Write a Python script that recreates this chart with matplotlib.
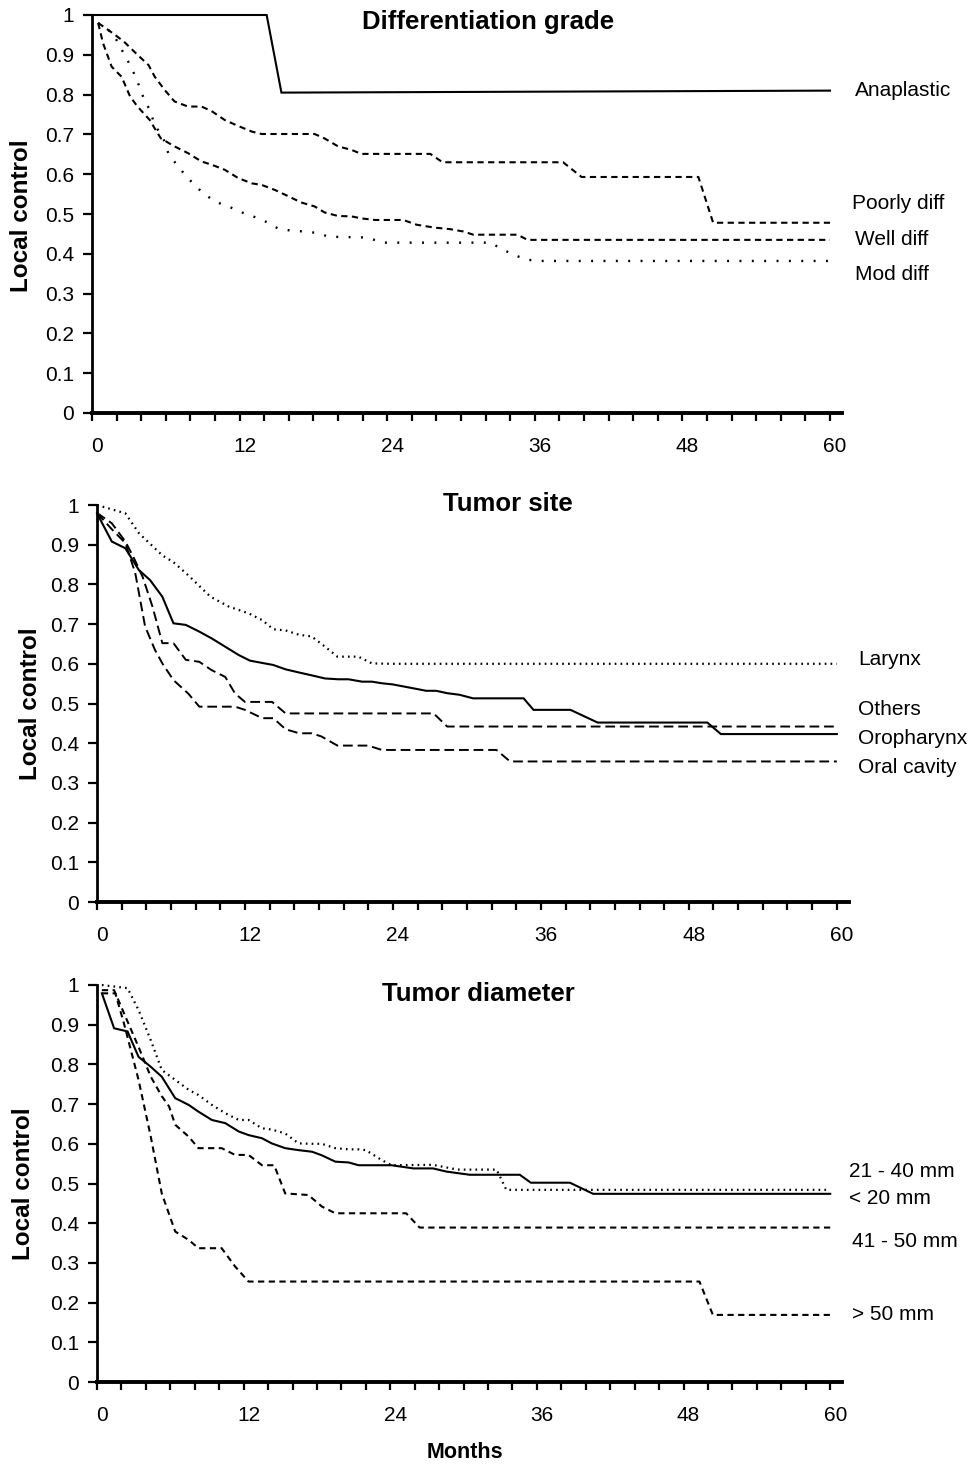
import matplotlib
matplotlib.use("Agg")
import matplotlib.pyplot as plt
import matplotlib.transforms as mtransforms

plt.rcParams["font.family"] = ["Liberation Sans", "DejaVu Sans"]
plt.rcParams["lines.scale_dashes"] = False

# ---- Differentiation grade ----
ANAPLASTIC_M = [0, 14.2, 15.4, 60]
ANAPLASTIC_V = [1.0, 1.0, 0.805, 0.81]

POORLY_M = [0.5, 1.7, 2.6, 3.7, 4.6, 5.1, 5.9, 6.7, 7.8, 8.9, 9.7, 10.8, 11.9, 13.0, 13.8,
            18.1, 18.9, 20.0, 21.1, 21.9, 27.5, 28.5, 38.3, 39.8, 49.3, 50.5, 60]
POORLY_V = [0.98, 0.954, 0.933, 0.90, 0.874, 0.845, 0.812, 0.783, 0.77, 0.77, 0.759, 0.736, 0.721,
            0.707, 0.701, 0.701, 0.69, 0.67, 0.661, 0.651, 0.651, 0.63, 0.63, 0.593, 0.593, 0.478, 0.478]

WELL_M = [0.5, 0.9, 1.6, 2.4, 3.1, 3.7, 4.7, 5.1, 5.6, 6.7, 7.8, 8.9, 9.8, 10.8, 11.9, 13.0, 13.8,
          14.9, 16.0, 17.0, 18.1, 18.9, 20.0, 21.1, 21.9, 23.0, 25.3, 26.4, 27.8, 29.1, 30.2, 31.0,
          34.6, 35.4, 60]
WELL_V = [0.98, 0.929, 0.87, 0.845, 0.795, 0.77, 0.736, 0.715, 0.69, 0.67, 0.653, 0.632, 0.623,
          0.611, 0.59, 0.577, 0.573, 0.56, 0.544, 0.529, 0.519, 0.504, 0.495, 0.494, 0.489, 0.485,
          0.485, 0.473, 0.466, 0.462, 0.456, 0.448, 0.448, 0.435, 0.435]

MOD_M = [0.5, 1.7, 2.5, 3.1, 3.6, 4.2, 4.7, 5.1, 5.8, 6.2, 6.9, 7.8, 8.9, 10.0, 11.1, 12.0, 13.1,
         14.0, 15.1, 16.2, 17.3, 18.4, 19.2, 22.3, 23.7, 32.4, 33.2, 34.3, 35.4, 36.4, 60]
MOD_V = [0.98, 0.954, 0.908, 0.874, 0.841, 0.791, 0.761, 0.724, 0.69, 0.653, 0.623, 0.59, 0.556,
         0.531, 0.519, 0.506, 0.494, 0.483, 0.464, 0.458, 0.456, 0.452, 0.443, 0.441, 0.428,
         0.428, 0.414, 0.397, 0.385, 0.382, 0.382]

# ---- Tumor site ----
LARYNX_M = [0, 2.3, 3.4, 5.3, 6.2, 7.4, 9.2, 10.7, 12.3, 13.4, 14.3, 15.3, 16.4, 17.4, 18.5,
            19.5, 21.2, 22.3, 23.9, 60]
LARYNX_V = [1.0, 0.979, 0.929, 0.873, 0.856, 0.823, 0.769, 0.744, 0.727, 0.71, 0.687, 0.684,
            0.673, 0.669, 0.643, 0.618, 0.618, 0.601, 0.6, 0.6]

OTHERS_M = [0, 1.2, 1.8, 2.3, 3.0, 3.7, 4.5, 5.3, 6.2, 7.2, 8.3, 9.3, 10.4, 11.2, 12.0, 14.2,
            15.3, 27.3, 28.4, 60]
OTHERS_V = [0.98, 0.954, 0.929, 0.908, 0.866, 0.819, 0.744, 0.652, 0.652, 0.61, 0.605, 0.584,
            0.567, 0.525, 0.504, 0.504, 0.475, 0.475, 0.442, 0.442]

OROPH_M = [0, 1.2, 2.3, 3.4, 4.3, 5.3, 6.2, 7.2, 8.3, 9.3, 10.4, 11.5, 12.4, 13.6, 14.3, 15.3,
           16.4, 17.4, 18.5, 19.6, 20.4, 21.5, 22.3, 23.1, 24.0, 25.7, 26.7, 27.5, 28.4, 29.4,
           30.5, 34.6, 35.4, 38.4, 40.6, 49.5, 50.6, 60]
OROPH_V = [0.979, 0.908, 0.891, 0.836, 0.811, 0.769, 0.702, 0.698, 0.681, 0.664, 0.643, 0.622,
           0.608, 0.601, 0.597, 0.586, 0.578, 0.571, 0.563, 0.561, 0.561, 0.555, 0.555, 0.551,
           0.548, 0.538, 0.532, 0.532, 0.526, 0.522, 0.513, 0.513, 0.484, 0.484, 0.452, 0.452,
           0.423, 0.423]

ORAL_M = [0, 1.2, 2.3, 3.1, 3.9, 4.7, 5.3, 6.2, 7.4, 8.3, 11.2, 12.0, 13.4, 14.3, 15.3, 16.4,
          17.4, 18.2, 19.5, 22.0, 23.1, 32.4, 33.5, 60]
ORAL_V = [0.98, 0.939, 0.904, 0.829, 0.694, 0.635, 0.601, 0.559, 0.525, 0.492, 0.492, 0.484,
          0.463, 0.463, 0.435, 0.425, 0.425, 0.417, 0.394, 0.394, 0.383, 0.383, 0.354, 0.354]

# ---- Tumor diameter ----
D21_40_M = [0.4, 2.5, 3.4, 4.4, 5.3, 6.4, 7.5, 8.3, 9.4, 10.5, 11.6, 12.4, 13.5, 14.3, 15.4,
            16.5, 17.6, 18.4, 19.5, 20.6, 21.4, 22.0, 23.3, 24.1, 27.5, 29.5, 32.7, 33.5, 60]
D21_40_V = [1.0, 0.992, 0.937, 0.861, 0.786, 0.761, 0.736, 0.723, 0.698, 0.677, 0.66, 0.66,
            0.639, 0.636, 0.626, 0.601, 0.6, 0.6, 0.589, 0.586, 0.586, 0.584, 0.559, 0.546,
            0.547, 0.535, 0.535, 0.484, 0.484]

D20_M = [0.4, 1.4, 2.5, 3.4, 4.4, 5.3, 6.4, 7.5, 8.3, 9.4, 10.5, 11.6, 12.4, 13.5, 14.3, 15.4,
         16.5, 17.6, 18.4, 19.5, 20.6, 21.4, 24.1, 25.9, 27.5, 28.6, 30.5, 34.6, 35.5, 38.7,
         40.6, 60]
D20_V = [0.979, 0.891, 0.883, 0.819, 0.794, 0.769, 0.715, 0.698, 0.681, 0.66, 0.652, 0.631,
         0.622, 0.614, 0.601, 0.589, 0.584, 0.58, 0.571, 0.555, 0.553, 0.546, 0.546, 0.538,
         0.538, 0.53, 0.522, 0.522, 0.502, 0.502, 0.474, 0.474]

D41_50_M = [0.4, 1.4, 2.5, 3.4, 4.4, 5.3, 5.9, 6.4, 7.5, 8.3, 10.2, 11.3, 12.4, 13.5, 14.5,
            15.4, 17.3, 18.4, 19.5, 25.3, 26.4, 60]
D41_50_V = [0.987, 0.987, 0.908, 0.844, 0.769, 0.72, 0.694, 0.648, 0.618, 0.589, 0.589, 0.572,
            0.572, 0.546, 0.546, 0.475, 0.471, 0.442, 0.425, 0.425, 0.389, 0.389]

D50_M = [0.4, 1.5, 2.2, 3.4, 4.4, 5.3, 6.4, 7.5, 8.3, 10.2, 11.3, 12.4, 49.3, 50.4, 60]
D50_V = [0.979, 0.979, 0.904, 0.761, 0.618, 0.475, 0.379, 0.358, 0.337, 0.337, 0.291, 0.253,
         0.253, 0.169, 0.169]

W, H = 978, 1466
SOLID = dict(linestyle="-", linewidth=1.5)
DASH = dict(linestyle=(0, (4.5, 3.2)), linewidth=1.5)
LONGDASH = dict(linestyle=(0, (7.0, 3.5)), linewidth=1.4)
SPARSE_DOT = dict(linestyle=(0, (1.4, 7.5)), linewidth=1.7)
DOT = dict(linestyle=(0, (1.2, 3.0)), linewidth=1.6)

fig = plt.figure(figsize=(W / 100, H / 100), dpi=100)
label_shift = mtransforms.ScaledTranslation(5 / 100, 0, fig.dpi_scale_trans)


def make_axes(left, top, bottom, scale):
    width = 61 * scale
    ax = fig.add_axes([left / W, (H - bottom) / H, width / W, (bottom - top) / H])
    ax.set_xlim(0, 61)
    ax.set_ylim(0, 1)
    for side in ("top", "right"):
        ax.spines[side].set_visible(False)
    ax.spines["left"].set_linewidth(2.0)
    ax.spines["bottom"].set_linewidth(2.8)
    ax.set_xticks(range(0, 61, 2))
    ax.set_xticklabels([str(m) if m % 12 == 0 else "" for m in range(0, 61, 2)])
    ticks = [i / 10 for i in range(11)]
    ax.set_yticks(ticks)
    ax.set_yticklabels(["0"] + [f"{t:.1f}" for t in ticks[1:-1]] + ["1"])
    ax.tick_params(axis="x", direction="out", length=6, width=1.6, pad=11, labelsize=15)
    ax.tick_params(axis="y", direction="out", length=6.5, width=1.6, pad=6.5, labelsize=15)
    for lbl in ax.get_xticklabels():
        lbl.set_transform(lbl.get_transform() + label_shift)
    return ax


def draw(ax, m, v, style):
    ax.plot(m, v, color="black", clip_on=False, solid_joinstyle="miter",
            dash_capstyle="butt", **style)


def label(ax, x, y, text):
    ax.text(x, y, text, fontsize=15, ha="left", va="center", clip_on=False)


# Panel 1
ax1 = make_axes(92, 15, 413, 12.3)
draw(ax1, ANAPLASTIC_M, ANAPLASTIC_V, SOLID)
draw(ax1, POORLY_M, POORLY_V, DASH)
draw(ax1, WELL_M, WELL_V, DASH)
draw(ax1, MOD_M, MOD_V, SPARSE_DOT)
label(ax1, 62.0, 0.81, "Anaplastic")
label(ax1, 61.8, 0.527, "Poorly diff")
label(ax1, 62.0, 0.436, "Well diff")
label(ax1, 62.0, 0.349, "Mod diff")

# Panel 2
ax2 = make_axes(97, 505, 902, 12.33)
draw(ax2, LARYNX_M, LARYNX_V, DOT)
draw(ax2, OTHERS_M, OTHERS_V, LONGDASH)
draw(ax2, OROPH_M, OROPH_V, SOLID)
draw(ax2, ORAL_M, ORAL_V, LONGDASH)
label(ax2, 61.7, 0.61, "Larynx")
label(ax2, 61.7, 0.484, "Others")
label(ax2, 61.7, 0.413, "Oropharynx")
label(ax2, 61.7, 0.338, "Oral cavity")

# Panel 3
ax3 = make_axes(97, 985, 1382, 12.22)
draw(ax3, D21_40_M, D21_40_V, DOT)
draw(ax3, D20_M, D20_V, SOLID)
draw(ax3, D41_50_M, D41_50_V, DASH)
draw(ax3, D50_M, D50_V, DASH)
label(ax3, 61.5, 0.529, "21 - 40 mm")
label(ax3, 61.5, 0.461, "< 20 mm")
label(ax3, 61.8, 0.353, "41 - 50 mm")
label(ax3, 61.8, 0.171, "> 50 mm")

# titles and axis labels (pixel positions)
for x, y, t in [(488, 22, "Differentiation grade"), (508, 504, "Tumor site"),
                (478, 994, "Tumor diameter")]:
    fig.text(x / W, 1 - y / H, t, fontsize=18.5, fontweight="bold", ha="center", va="center")

for x, y in [(22, 216), (31, 704), (24, 1184)]:
    fig.text(x / W, 1 - y / H, "Local control", fontsize=17.5, fontweight="bold",
             rotation=90, ha="center", va="center")

fig.text(465 / W, 1 - 1452 / H, "Months", fontsize=15.5, fontweight="bold",
         ha="center", va="center")

fig.savefig("out.png", dpi=100)
